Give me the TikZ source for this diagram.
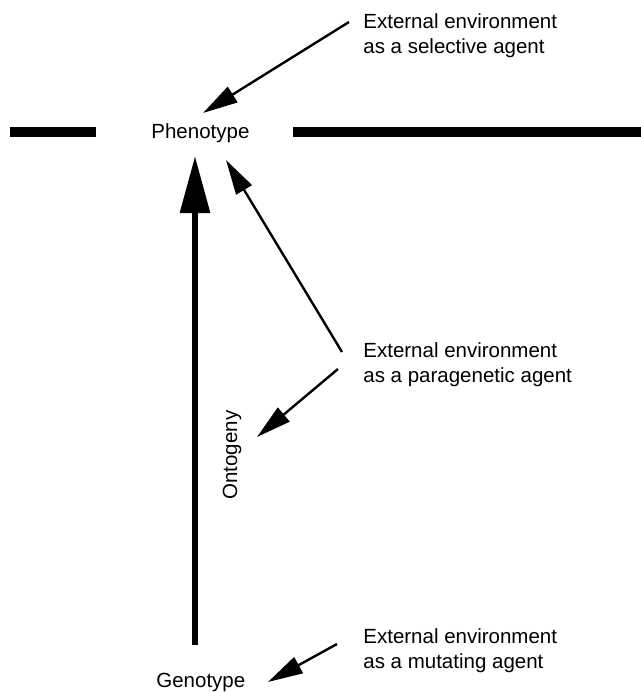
\documentclass[tikz,border=0pt]{standalone}
\usepackage{fontspec}
\setmainfont{Liberation Sans}
\usepackage{tikz}
\usetikzlibrary{arrows.meta}

\begin{document}
\begin{tikzpicture}[x=0.5pt,y=-0.5pt,
    lbl/.style={inner sep=0pt, font=\fontsize{10.25}{12.5}\selectfont},
    agent/.style={lbl, align=left, anchor=north west},
    agentarrow/.style={line width=1.2pt, -{Triangle[length=17.5pt,width=9pt]}},
    ontoarrow/.style={line width=3pt, -{Triangle[length=28.5pt,width=14.5pt]}},
    bar/.style={line width=5pt}]
    \useasboundingbox (0,0) rectangle (641,692);
    \node[lbl, anchor=base west]        (pheno) at (151,138) {Phenotype};
    \node[lbl, anchor=base west]        (geno)  at (156,687) {Genotype};
    \node[lbl, rotate=90, anchor=base]  (onto)  at (237,455) {Ontogeny};
    \node[agent] (sel)  at (363,13)  {External environment\\as a selective agent};
    \node[agent] (para) at (363,342) {External environment\\as a paragenetic agent};
    \node[agent] (mut)  at (363,628) {External environment\\as a mutating agent};
    \coordinate (sel-out)   at (349,22);
    \coordinate (sel-in)    at (203,113);
    \coordinate (para-out1) at (342,352);
    \coordinate (para-in1)  at (226,160);
    \coordinate (para-out2) at (338,369);
    \coordinate (para-in2)  at (257,437);
    \coordinate (mut-out)   at (337,644);
    \coordinate (mut-in)    at (268,682);
    \coordinate (onto-bot)  at (195,645);
    \coordinate (onto-top)  at (195,156);
    % the broken line at phenotype level
    \draw[bar] (10,132) -- (96,132);
    \draw[bar] (293,132) -- (641,132);
    \draw[ontoarrow]  (onto-bot)  -- (onto-top);
    \draw[agentarrow] (sel-out)   -- (sel-in);
    \draw[agentarrow] (para-out1) -- (para-in1);
    \draw[agentarrow] (para-out2) -- (para-in2);
    \draw[agentarrow] (mut-out)   -- (mut-in);
\end{tikzpicture}
\end{document}
